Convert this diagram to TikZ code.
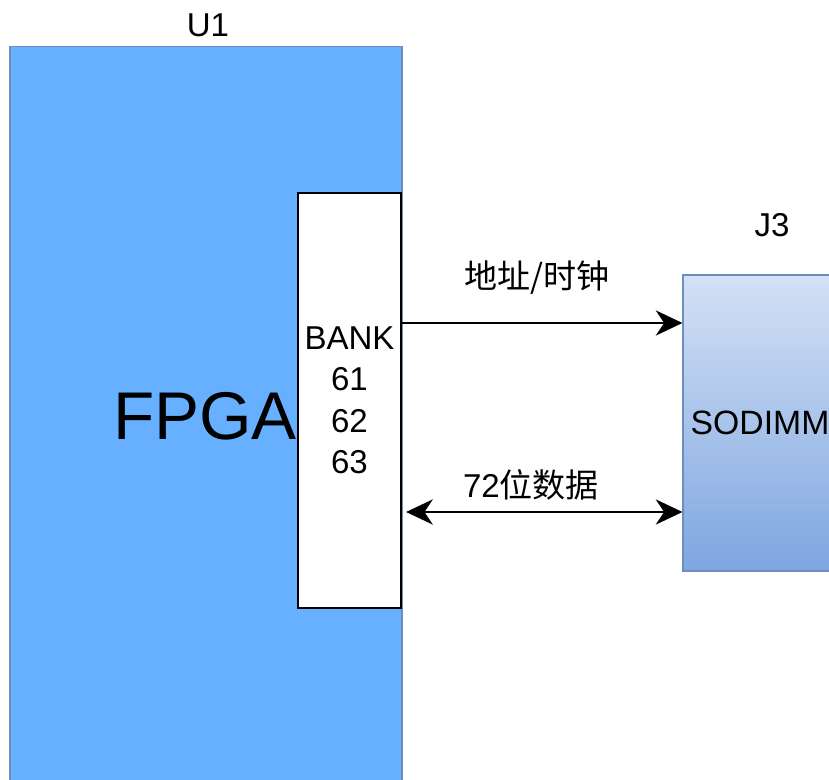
\documentclass[tikz,border=0pt]{standalone}
\usepackage{fontspec}
\setmainfont{Liberation Sans}
\newfontfamily\cjk{Noto Sans CJK SC}
\usetikzlibrary{arrows.meta,positioning}

\definecolor{fpgablue}{HTML}{66B0FF}
\definecolor{fpgaedge}{HTML}{6C8EBF}
\definecolor{dimmtop}{HTML}{D4E1F5}
\definecolor{dimmbot}{HTML}{7EA6E0}

\begin{document}
\begin{tikzpicture}[x=0.025cm,y=-0.025cm,
	chip/.style={draw=fpgaedge,fill=fpgablue,line width=0.8pt,inner sep=0pt},
	bankbox/.style={draw=black,fill=white,line width=1.3pt,inner sep=0pt,align=center,font=\fontsize{23.5}{29.5}\selectfont},
	dimmbox/.style={draw=fpgaedge,top color=dimmtop,bottom color=dimmbot,line width=0.8pt,inner sep=0pt,font=\fontsize{24}{28}\selectfont},
	lbl/.style={font=\fontsize{23.5}{28}\selectfont,inner sep=0pt},
	bus/.style={line width=1.2pt,{Stealth[length=19pt,width=18pt,inset=6pt]}-{Stealth[length=19pt,width=18pt,inset=6pt]}},
	sig/.style={line width=1.2pt,-{Stealth[length=19pt,width=18pt,inset=6pt]}}]

	\useasboundingbox (0,0) rectangle (829,780);
	\clip (0,0) rectangle (829,780);

	% Blocs
	\node[chip,minimum width=9.8cm,minimum height=18.5cm] (fpga) at (206,417) {};
	\node[font=\fontsize{48}{56}\selectfont,inner sep=0pt] (fpgatxt) at (205,416) {FPGA};
	\node[bankbox,minimum width=2.575cm,minimum height=10.375cm] (bank) at (349.5,400.5) {BANK\\61\\62\\63};
	\node[dimmbox,minimum width=3.85cm,minimum height=7.4cm] (dimm) at (760,423) {SODIMM};

	% Etiquetes
	\node[lbl] (u1) at (208,25) {U1};
	\node[lbl] (j3) at (772,225) {J3};
	\node[lbl] (addrlbl) at (537,278) {\cjk 地址/时钟};
	\node[lbl] (datalbl) at (531,485) {72\cjk 位数据};

	% Busos
	\coordinate (addr) at (0,323);
	\coordinate (data) at (0,512);
	\draw[sig] (addr -| bank.east) -- (addr -| dimm.west);
	\draw[bus,shorten <=3pt] (data -| bank.east) -- (data -| dimm.west);

\end{tikzpicture}
\end{document}
